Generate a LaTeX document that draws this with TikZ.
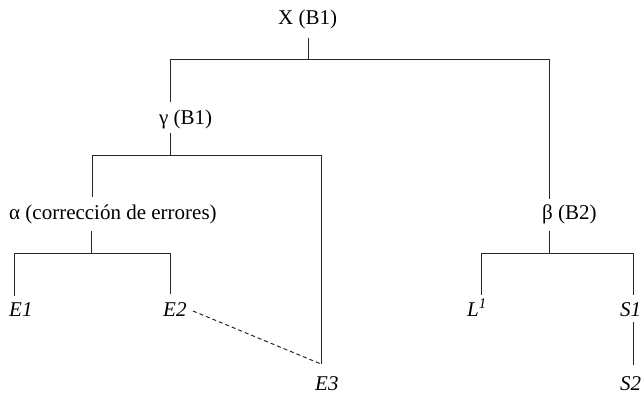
\documentclass[tikz,border=0pt]{standalone}
\usepackage{fontspec}
\setmainfont{Liberation Serif}[Ligatures=TeX]
\newfontfamily\tnr{Liberation Serif}
\begin{document}
\begin{tikzpicture}[x=1pt,y=-1pt,
  lbl/.style={inner sep=0pt, anchor=base west, font=\tnr\fontsize{21}{25}\selectfont},
  ln/.style={draw=black!85, line width=1pt},
  dln/.style={ln, dashed, dash pattern=on 4pt off 3pt}]
\useasboundingbox (0,0) rectangle (644,396);
% labels
\node[lbl] (X) at (278,25) {X (B1)};
\node[lbl] (g) at (159,124) {γ (B1)};
\node[lbl] (a) at (9,219) {α (corrección de errores)};
\node[lbl] (b) at (542,219) {β (B2)};
\node[lbl] (E1) at (9,316) {\itshape E1};
\node[lbl] (E2) at (163,316) {\itshape E2};
\node[lbl] (E3) at (315,390) {\itshape E3};
\node[lbl] (L) at (467,316) {\itshape L\textsuperscript{1}};
\node[lbl] (S1) at (620,316) {\itshape S1};
\node[lbl] (S2) at (620,390) {\itshape S2};
% joints
\coordinate (xt) at (308,38);
\coordinate (xb) at (308,59);
\coordinate (xl) at (170,59);
\coordinate (xr) at (549,59);
\coordinate (gtop) at (170,102);
\coordinate (btop) at (549,199);
\coordinate (gt) at (170,133);
\coordinate (gb) at (170,155);
\coordinate (gl) at (92,155);
\coordinate (gr) at (321,155);
\coordinate (atop) at (92,197);
\coordinate (e3top) at (321,364);
\coordinate (at) at (91,231);
\coordinate (ab) at (91,253);
\coordinate (al) at (14,253);
\coordinate (ar) at (170,253);
\coordinate (e1top) at (14,296);
\coordinate (e2top) at (170,294);
\coordinate (e2r) at (193,311);
\coordinate (bt) at (549,231);
\coordinate (bb) at (549,253);
\coordinate (bl) at (481,253);
\coordinate (br) at (633,253);
\coordinate (ltop) at (481,295);
\coordinate (s1top) at (633,295);
\coordinate (s1b) at (633,322);
\coordinate (s2t) at (633,365);
% connectors
\draw[ln] (xt) -- (xb);
\draw[ln] (xl) -- (xr);
\draw[ln] (xl) -- (gtop);
\draw[ln] (xr) -- (btop);
\draw[ln] (gt) -- (gb);
\draw[ln] (gl) -- (gr);
\draw[ln] (gl) -- (atop);
\draw[ln] (gr) -- (e3top);
\draw[ln] (at) -- (ab);
\draw[ln] (al) -- (ar);
\draw[ln] (al) -- (e1top);
\draw[ln] (ar) -- (e2top);
\draw[dln] (e2r) -- (e3top);
\draw[ln] (bt) -- (bb);
\draw[ln] (bl) -- (br);
\draw[ln] (bl) -- (ltop);
\draw[ln] (br) -- (s1top);
\draw[ln] (s1b) -- (s2t);
\end{tikzpicture}
\end{document}
